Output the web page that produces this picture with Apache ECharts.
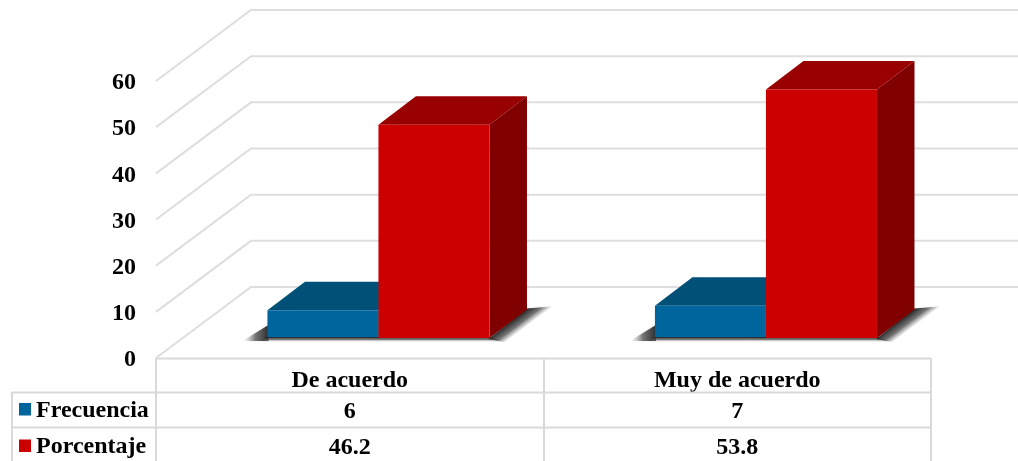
<!DOCTYPE html>
<html><head><meta charset="utf-8">
<style>html,body{margin:0;padding:0;background:#fff}#c{width:1018px;height:461px}</style>
<script src="https://cdn.jsdelivr.net/npm/echarts@6/dist/echarts.min.js"></script>
</head><body><div id="c"></div>
<script>
const categories = ['De acuerdo', 'Muy de acuerdo'];
const frecuencia = [6, 7];
const porcentaje = [46.2, 53.8];
const yTicks = [0, 10, 20, 30, 40, 50, 60];

const FONT = 'bold 24px "Liberation Serif", serif';
const GRID = '#dedede', TABLE = '#d9d9d9';
const DX = 37.5, DY = 28.5, FLOOR_DX = 95, FLOOR_DY = 71, BASE = 20;
const BAR = 0.2865, SPLIT = 28.7;

function box(x0, x1, yBase, yTop, c) {
  return [
    {type:'polygon', shape:{points:[[x0,yTop],[x1,yTop],[x1+DX,yTop-DY],[x0+DX,yTop-DY]]}, style:{fill:c.top}},
    {type:'polygon', shape:{points:[[x1,yTop],[x1+DX,yTop-DY],[x1+DX,yBase-DY],[x1,yBase]]}, style:{fill:c.side}},
    {type:'rect', shape:{x:x0,y:yTop,width:x1-x0,height:yBase-yTop}, style:{fill:c.front}}
  ];
}
function shadowGrad(x0,y0,x1,y1){
  return new echarts.graphic.LinearGradient(x0,y0,x1,y1,[
    {offset:0,color:'rgba(35,35,35,.95)'},
    {offset:.5,color:'rgba(80,80,80,.75)'},
    {offset:1,color:'rgba(200,200,200,0)'}],true);
}
function barRender(which, c) {
  return function(params, api) {
    const cat = api.value(0), v = api.value(1);
    const p0 = api.coord([cat,0]), pv = api.coord([cat,v]);
    const w = api.size([1,0])[0]*BAR;
    const yBase = p0[1]-BASE, yTop = pv[1]-BASE;
    const x0 = which===0 ? p0[0]+SPLIT-w : p0[0]+SPLIT;
    const x1 = x0+w;
    const kids = [];
    if (which===0) {
      kids.push({type:'polygon', shape:{points:[[x0+1,yBase-13],[x0+1,yBase+3],[x0-25,yBase+3]]},
        style:{fill:shadowGrad(x0+1,0,x0-25,0),shadowBlur:2,shadowColor:'rgba(120,120,120,.35)'}});
    } else {
      kids.push({type:'polygon', shape:{points:[[x0-w-3,yBase-1],[x1+2,yBase-1],[x1+14,yBase+4],[x0-w-3,yBase+4]]},
        style:{fill:shadowGrad(0,yBase-1,0,yBase+4)}});
      const mx = x1+DX/2, my = yBase-DY/2;
      kids.push({type:'polygon', shape:{points:[[x1-1,yBase+1],[x1+DX,yBase-DY-1],[x1+DX+25,yBase-DY-3],[x1+15,yBase+4]]},
        style:{fill:shadowGrad(mx,my,mx+8.4,my+11.2),shadowBlur:2,shadowColor:'rgba(120,120,120,.35)'}});
    }
    kids.push(...box(x0,x1,yBase,yTop,c));
    kids.push({type:'text', style:{text:String(v), x:p0[0], y:which===0?412:448, align:'center', verticalAlign:'middle', font:FONT, fill:'#000'}});
    return {type:'group', children:kids};
  };
}
const chart = echarts.init(document.getElementById('c'), null, {renderer:'canvas'});
function tableLine(x1,y1,x2,y2){
  return {type:'line', shape:{x1,y1,x2,y2}, style:{stroke:TABLE, lineWidth:2}, z:3};
}
function rowLabel(name, color, ySw, yText){
  return [
    {type:'rect', shape:{x:19,y:ySw,width:12,height:12.5}, style:{fill:color}, z:4},
    {type:'text', style:{text:name, x:36, y:yText, verticalAlign:'middle', font:FONT, fill:'#000'}, z:4}
  ];
}
chart.setOption({
  animation:false,
  backgroundColor:'#fff',
  grid:{left:156,right:87,top:81,bottom:103},
  xAxis:{type:'category',data:categories,axisLine:{show:false},axisTick:{show:false},splitLine:{show:false},
    axisLabel:{margin:11,color:'#000',fontFamily:'Liberation Serif',fontWeight:'bold',fontSize:24}},
  yAxis:{type:'value',min:0,max:60,interval:10,axisLine:{show:false},axisTick:{show:false},splitLine:{show:false},
    axisLabel:{margin:20,verticalAlign:'top',lineHeight:4,color:'#000',fontFamily:'Liberation Serif',fontWeight:'bold',fontSize:24}},
  graphic:{elements:[
    tableLine(156,358.5,931,358.5), tableLine(12,392.5,931,392.5), tableLine(12,427.5,931,427.5),
    tableLine(12,392,12,461), tableLine(156,358,156,461), tableLine(544,358,544,461), tableLine(931,358,931,461),
    ...rowLabel('Frecuencia','#00659c',403,411),
    ...rowLabel('Porcentaje','#cc0000',439.5,447)
  ]},
  series:[
    {type:'custom',name:'Paredes',silent:true,clip:false,z:1,data:yTicks.map(t=>[0,t]),
      renderItem(params,api){
        const p=api.coord([0,api.value(1)]);
        const left=api.coord([0,0])[0]-api.size([1,0])[0]/2;
        return {type:'polyline',shape:{points:[[left,p[1]],[left+FLOOR_DX,p[1]-FLOOR_DY],[1018,p[1]-FLOOR_DY]]},style:{fill:null,stroke:GRID,lineWidth:2}};
      }},
    {type:'custom',name:'Frecuencia',clip:false,z:2,data:frecuencia.map((v,i)=>[i,v]),
      renderItem:barRender(0,{front:'#00659c',top:'#005078',side:'#004060'})},
    {type:'custom',name:'Porcentaje',clip:false,z:2,data:porcentaje.map((v,i)=>[i,v]),
      renderItem:barRender(1,{front:'#cc0000',top:'#990000',side:'#800000'})}
  ]
});
</script></body></html>
